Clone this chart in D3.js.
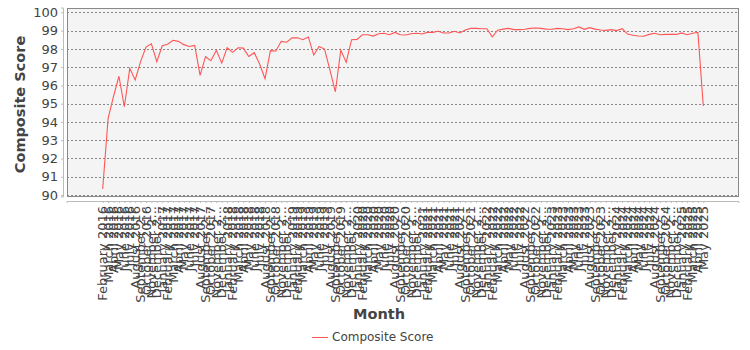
<!DOCTYPE html>
<html>
<head>
<meta charset="utf-8">
<script src="https://cdn.jsdelivr.net/npm/d3@7"></script>
<style>
	body { margin: 0; background: #fff; }
	svg text { font-family: "DejaVu Sans", sans-serif; fill: #444; }
</style>
</head>
<body>
<div id="chart"></div>
<script>
	// months run from February 2016 to May 2025
	const monthNames = ["January", "February", "March", "April", "May", "June",
		"July", "August", "September", "October", "November", "December"];
	const years = [2016, 2017, 2018, 2019, 2020, 2021, 2022, 2023, 2024, 2025];
	const firstMonth = 1;   // February
	const lastMonth = 4;    // May
	const yTicks = [90, 91, 92, 93, 94, 95, 96, 97, 98, 99, 100];

	const scores = [
		90.33, 94.2, 95.4, 96.5, 94.83, 96.93, 96.3, 97.3, 98.1, 98.28, 97.3, 98.17,
		98.25, 98.47, 98.41, 98.23, 98.13, 98.19, 96.55, 97.57, 97.35, 97.92, 97.22, 98.06,
		97.81, 98.06, 98.04, 97.58, 97.79, 97.17, 96.37, 97.9, 97.88, 98.41, 98.36, 98.6,
		98.61, 98.5, 98.65, 97.66, 98.13, 97.99, 96.84, 95.65, 97.94, 97.26, 98.5, 98.52,
		98.77, 98.77, 98.7, 98.83, 98.85, 98.77, 98.9, 98.77, 98.76, 98.83, 98.85, 98.81,
		98.9, 98.9, 98.96, 98.87, 98.87, 98.96, 98.87, 99.03, 99.12, 99.12, 99.1, 99.1,
		98.66, 99.02, 99.08, 99.12, 99.05, 99.05, 99.07, 99.12, 99.14, 99.12, 99.08, 99.07,
		99.12, 99.1, 99.05, 99.1, 99.2, 99.07, 99.16, 99.08, 99.03, 99.01, 99.05, 99.0,
		99.1, 98.81, 98.74, 98.7, 98.69, 98.79, 98.85, 98.77, 98.79, 98.79, 98.79, 98.87,
		98.77, 98.85, 98.9, 94.87
	];

	// build the category labels from the years and month names
	const categories = [];
	years.forEach((y, yi) => {
		monthNames.forEach((m, mi) => {
			if (yi === 0 && mi < firstMonth) return;
			if (yi === years.length - 1 && mi > lastMonth) return;
			categories.push(m + " " + y);
		});
	});

	const width = 750, height = 350;
	const plot = {left: 67, right: 739, top: 8, bottom: 197};

	const svg = d3.select("#chart").append("svg")
		.attr("width", width)
		.attr("height", height);

	// category axis with margins like a java chart: 5% each side, 20% between
	const plotW = plot.right - plot.left;
	const catW = plotW * 0.7 / categories.length;
	const x = d3.scalePoint()
		.domain(categories)
		.range([plot.left + plotW * 0.05 + catW / 2, plot.right - plotW * 0.05 - catW / 2]);

	const y = d3.scaleLinear()
		.domain([90, 100])
		.range([195, 12.3]);

	// plot background
	svg.append("rect")
		.attr("x", plot.left)
		.attr("y", plot.top)
		.attr("width", plotW)
		.attr("height", plot.bottom - plot.top)
		.attr("fill", "#f4f4f4");

	// grid lines
	svg.append("g")
		.selectAll("line")
		.data(yTicks)
		.join("line")
		.attr("x1", plot.left)
		.attr("x2", plot.right)
		.attr("y1", d => Math.round(y(d)) + 0.5)
		.attr("y2", d => Math.round(y(d)) + 0.5)
		.attr("stroke", "#888")
		.attr("stroke-width", 1)
		.attr("stroke-dasharray", "2,2");

	// line
	const line = d3.line()
		.x((d, i) => x(categories[i]))
		.y(d => y(d));

	svg.append("path")
		.datum(scores)
		.attr("d", line)
		.attr("fill", "none")
		.attr("stroke", "#ff5555")
		.attr("stroke-width", 1.1);

	// plot border
	svg.append("rect")
		.attr("x", plot.left + 0.5)
		.attr("y", plot.top + 0.5)
		.attr("width", plotW - 1)
		.attr("height", plot.bottom - plot.top - 1)
		.attr("fill", "none")
		.attr("stroke", "#888")
		.attr("stroke-width", 1);

	// y axis
	const yAxis = svg.append("g")
		.attr("transform", `translate(${plot.left - 4},0)`)
		.call(d3.axisLeft(y).tickValues(yTicks).tickSize(2).tickPadding(3));
	yAxis.select(".domain").attr("stroke", "#bbb").attr("d", `M-2,${plot.top}H0.5V${plot.bottom}H-2`);
	yAxis.selectAll(".tick line").attr("stroke", "#bbb");
	yAxis.selectAll(".tick text")
		.style("font-size", "13px")
		.attr("fill", "#444");

	// x axis
	const xAxis = svg.append("g")
		.attr("transform", `translate(0,${plot.bottom + 4})`)
		.call(d3.axisBottom(x).tickSize(2).tickFormat(""));
	xAxis.select(".domain").attr("stroke", "#bbb").attr("d", `M${plot.left},2V0.5H${plot.right}V2`);
	xAxis.selectAll(".tick line").attr("stroke", "#bbb");

	// rotated category labels, cut to fit like the original
	const maxLabel = 97;
	const labels = svg.append("g")
		.selectAll("text")
		.data(categories)
		.join("text")
		.attr("transform", d => `translate(${x(d)},206) rotate(-90)`)
		.attr("text-anchor", "end")
		.attr("dy", "0.35em")
		.style("font-size", "13px")
		.text(d => d);
	labels.each(function(d) {
		const t = d3.select(this);
		let s = d;
		while (this.getComputedTextLength() > maxLabel && s.length > 1) {
			s = s.slice(0, -1);
			t.text(s + "...");
		}
	});

	// axis titles
	svg.append("text")
		.attr("transform", `translate(25,${(plot.top + plot.bottom) / 2 + 2}) rotate(-90)`)
		.attr("text-anchor", "middle")
		.style("font-size", "14.5px")
		.style("font-weight", "bold")
		.text("Composite Score");

	svg.append("text")
		.attr("x", 379)
		.attr("y", 319)
		.attr("text-anchor", "middle")
		.style("font-size", "14.5px")
		.style("font-weight", "bold")
		.text("Month");

	// legend
	const legend = svg.append("g").attr("transform", "translate(312,337)");
	legend.append("line")
		.attr("x1", 0).attr("x2", 16)
		.attr("y1", 0.5).attr("y2", 0.5)
		.attr("stroke", "#ff5555");
	legend.append("text")
		.attr("x", 20)
		.attr("dy", "0.35em")
		.style("font-size", "12px")
		.text("Composite Score");
</script>
</body>
</html>
